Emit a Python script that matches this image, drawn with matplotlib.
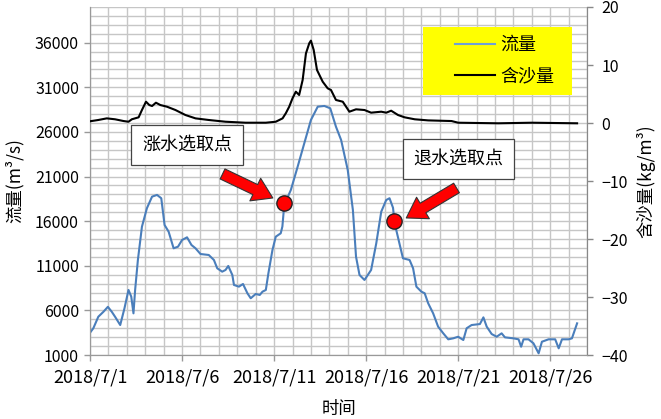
import datetime as dt
import matplotlib
matplotlib.use("Agg")
import matplotlib.pyplot as plt
import matplotlib.dates as mdates
from matplotlib.patches import Rectangle
from matplotlib.ticker import FuncFormatter, MultipleLocator

plt.rcParams['font.family'] = ['Noto Sans CJK SC', 'DejaVu Sans']

# days after 2018/7/1 and flow (m3/s)
flow_days = [0, 0.18, 0.45, 0.73, 0.97, 1.18, 1.36, 1.64, 1.87, 2.09, 2.24, 2.36, 2.45,
             2.60, 2.82, 3.09, 3.37, 3.64, 3.87, 4.05, 4.27, 4.54, 4.78, 5.00, 5.27,
             5.51, 5.73, 6.00, 6.45, 6.73, 6.91, 7.18, 7.36, 7.51, 7.73, 7.82, 8.09,
             8.31, 8.55, 8.73, 9.00, 9.22, 9.37, 9.55, 9.69, 9.91, 10.09, 10.36, 10.45,
             10.55, 10.91, 11.28, 11.64, 12.00, 12.37, 12.73, 13.05, 13.36, 13.64,
             14.00, 14.28, 14.45, 14.64, 14.91, 15.09, 15.27, 15.55, 15.82, 16.09,
             16.27, 16.46, 16.55, 16.82, 17.00, 17.36, 17.55, 17.73, 18.00, 18.18,
             18.37, 18.64, 18.91, 19.19, 19.46, 19.73, 20.00, 20.28, 20.46, 20.73,
             21.18, 21.37, 21.55, 21.82, 22.09, 22.36, 22.54, 23.00, 23.28, 23.42,
             23.55, 23.82, 24.09, 24.37, 24.55, 24.91, 25.27, 25.46, 25.64, 26.00,
             26.18, 26.46]
flow = [3500, 4000, 5290, 5850, 6400, 5850, 5290, 4360, 6230, 8290, 7540, 5670, 8290,
        11650, 15380, 17450, 18750, 18940, 18570, 15570, 14820, 12960, 13140, 13890, 14190,
        13330, 12960, 12320, 12210, 11650, 10720, 10340, 10530, 10980, 9970, 8850, 8660,
        8960, 7920, 7360, 7840, 7730, 8100, 8290, 10160, 12770, 14260, 14640, 15400,
        17800, 19500, 22110, 24730, 27340, 28830, 28910, 28650, 26590, 25100,
        21740, 17250, 12020, 9970, 9410, 9970, 10530, 13520, 17060, 18370,
        18570, 17500, 15760, 13400, 11840, 11650, 10720, 8660, 8100, 7920,
        6800, 5670, 4180, 3430, 2760, 2870, 3050, 2680, 4000, 4360,
        4470, 5220, 4180, 3350, 3050, 3430, 2980, 2870, 2760, 1930,
        2760, 2760, 2310, 1190, 2490, 2760, 2760, 1750, 2760, 2760,
        2870, 4550]

# days after 2018/7/1 and sediment concentration (kg/m3)
sed_days = [0, 0.45, 0.91, 1.36, 1.82, 2.09, 2.27, 2.64, 2.82, 3.04, 3.22, 3.37, 3.58,
            3.82, 4.18, 4.64, 5.18, 5.73, 6.45, 7.36, 8.45, 9.55, 10.09, 10.46, 10.64,
            10.82, 11.00, 11.18, 11.36, 11.55, 11.73, 11.91, 12.00, 12.15, 12.33, 12.64,
            12.91, 13.09, 13.36, 13.73, 14.09, 14.45, 14.91, 15.27, 15.82, 16.09, 16.36,
            16.73, 17.09, 17.64, 18.37, 19.64, 20.00, 22.18, 24.00, 26.46]
sed = [0.3, 0.52, 0.8, 0.64, 0.34, 0.22, 0.64, 0.98, 2.24, 3.67, 3.1, 2.93, 3.5,
       3.1, 2.81, 2.24, 1.38, 0.8, 0.52, 0.22, 0.05, 0.05, 0.22, 0.8, 1.7,
       2.81, 4.26, 5.4, 4.83, 7.41, 12.0, 13.74, 14.2, 12.6, 9.14, 7.12,
       5.98, 5.69, 3.97, 3.67, 1.95, 2.36, 2.24, 1.78, 1.95, 1.78, 2.12,
       1.38, 0.98, 0.64, 0.45, 0.34, 0.05, -0.05, 0.05, -0.05]

# picked points
pick_days = [10.53, 16.53]
pick_flow = [18040, 16020]
pick_labels = ['涨水选取点', '退水选取点']

start = mdates.date2num(dt.datetime(2018, 7, 1))
fx = [start + d for d in flow_days]
sx = [start + d for d in sed_days]
px = [start + d for d in pick_days]

fig = plt.figure(figsize=(6.61, 4.19), dpi=100)
ax = fig.add_axes([0.1362, 0.1527, 0.7519, 0.8306])
ax2 = ax.twinx()

grid_c = '#c6c6c6'
ax.set_xlim(start, start + 27)
ax.set_ylim(1000, 40000)
ax.yaxis.set_major_locator(MultipleLocator(5000))
ax.set_yticks(range(1000, 40000, 5000))
ax.set_yticks(range(1000, 40001, 1000), minor=True)
ax.xaxis.set_major_locator(mdates.DayLocator(bymonthday=[1, 6, 11, 16, 21, 26]))
ax.xaxis.set_minor_locator(mdates.DayLocator())
ax.xaxis.set_major_formatter(FuncFormatter(
    lambda v, p: '{0.year}/{0.month}/{0.day}'.format(mdates.num2date(v))))
ax.grid(True, which='both', color=grid_c, lw=1.0)
ax.set_axisbelow(True)
ax.tick_params(which='minor', length=0)
ax.tick_params(which='major', direction='out', length=4.5, width=1, color='#999999')
ax.tick_params(axis='x', labelsize=13, pad=5)
ax.tick_params(axis='y', labelsize=11.5)

ax2.set_ylim(-40, 20)
ax2.set_yticks(range(-40, 21, 10))
ax2.tick_params(direction='out', length=4.5, width=1, color='#888888', labelsize=11.5, pad=6)

for a in (ax, ax2):
    a.spines['top'].set_visible(False)
    a.spines['left'].set_color('#999999')
    a.spines['bottom'].set_color('#999999')
    a.spines['right'].set_color('#888888')

l1, = ax.plot(fx, flow, color='#4a7ebb', lw=1.5, label='流量', zorder=3)
l2, = ax2.plot(sx, sed, color='black', lw=1.5, label='含沙量', zorder=3)
ax.plot(px, pick_flow, 'o', ms=11, mfc='#ff0000', mec='#222222', mew=1, zorder=5)

ax.set_ylabel('流量(m³/s)', fontsize=12.5, labelpad=8)
ax2.set_ylabel('含沙量(kg/m³)', fontsize=12.5, rotation=90, labelpad=6)
ax.set_xlabel('时间', fontsize=12.5, labelpad=10)

# yellow legend box
fig.patches.append(Rectangle((423 / 661, 1 - 95 / 419), 149 / 661, 68 / 419,
                             transform=fig.transFigure, facecolor='#ffff00',
                             edgecolor='none', zorder=5))
leg = fig.legend([l1, l2], ['流量', '含沙量'], loc='upper left',
                 bbox_to_anchor=(439 / 661, 1 - 20 / 419), frameon=False,
                 fontsize=13, handlelength=2.2, labelspacing=0.75, handletextpad=0.3)
leg.set_zorder(6)
leg.get_lines()[0].set_color('#6fa0d8')

# text boxes and arrows
box = dict(boxstyle='square,pad=0.6', fc='white', ec='#444444', lw=0.9)
ax.text(start + 2.84, 24540, pick_labels[0], fontsize=13, va='center', ha='left', bbox=box, zorder=6)
ax.text(start + 17.57, 22970, pick_labels[1], fontsize=13, va='center', ha='left', bbox=box, zorder=6)
arrow = dict(arrowstyle='simple,head_length=0.7,head_width=0.9,tail_width=0.4',
             fc='#ff0000', ec='#333333', lw=0.8, mutation_scale=20, shrinkA=0, shrinkB=0)
ax.annotate('', xy=(start + 9.93, 18600), xytext=(start + 7.2, 21290), arrowprops=arrow, zorder=6)
ax.annotate('', xy=(start + 17.18, 16360), xytext=(start + 19.91, 19720), arrowprops=arrow, zorder=6)

fig.savefig('out.png', dpi=100)
